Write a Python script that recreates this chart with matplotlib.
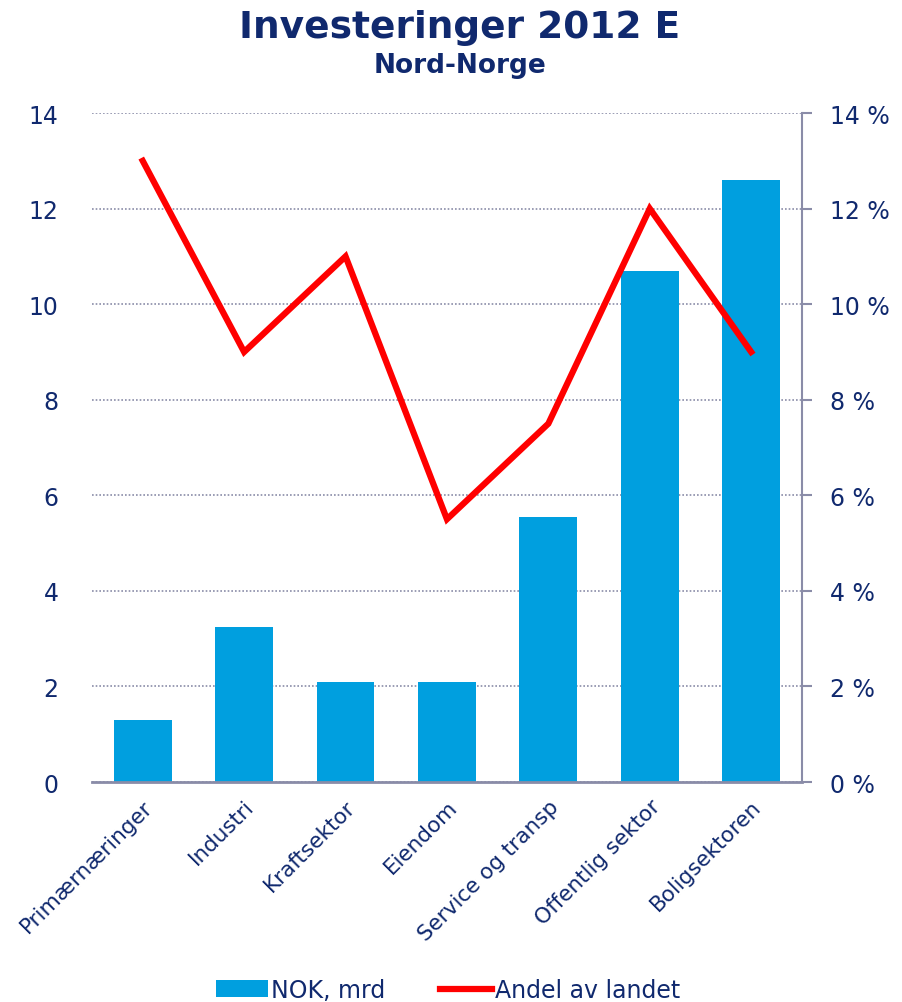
import numpy as np
import matplotlib.pyplot as plt
from matplotlib.ticker import FuncFormatter, MultipleLocator

categories = ["Primærnæringer", "Industri", "Kraftsektor", "Eiendom",
              "Service og transp", "Offentlig sektor", "Boligsektoren"]
nok_mrd = [1.3, 3.25, 2.1, 2.1, 5.55, 10.7, 12.6]
andel_pct = [13.0, 9.0, 11.0, 5.5, 7.5, 12.0, 9.0]

navy = "#10296e"
bar_col = "#009fdf"
grey = "#8a8ca8"

plt.rcParams['font.family'] = ['DejaVu Sans']

fig = plt.figure(figsize=(9.02, 10.03), dpi=100)
ax = fig.add_axes([0.102, 0.2193, 0.787, 0.667])
ax2 = ax.twinx()

x = np.arange(len(categories))
bars = ax.bar(x, nok_mrd, width=0.57, color=bar_col, label="NOK, mrd", zorder=2)
line, = ax2.plot(x, andel_pct, color="#ff0000", lw=4.5, label="Andel av landet",
                 solid_joinstyle="miter", zorder=3)

ax.set_xlim(-0.5, len(categories) - 0.5)
ax.set_ylim(0, 14)
ax2.set_ylim(0, 14)
ax.yaxis.set_major_locator(MultipleLocator(2))
ax2.yaxis.set_major_locator(MultipleLocator(2))
ax2.yaxis.set_major_formatter(FuncFormatter(lambda v, p: f"{v:.0f} %"))

ax.grid(axis="y", color=grey, linestyle=(0, (1, 1.2)), linewidth=1.2, zorder=0)
ax.set_axisbelow(True)

for a in (ax, ax2):
    a.spines["top"].set_visible(False)
    a.spines["left"].set_visible(False)
ax.spines["right"].set_visible(False)
ax2.spines["bottom"].set_visible(False)
ax.spines["bottom"].set_color(grey)
ax.spines["bottom"].set_linewidth(2)
ax2.spines["right"].set_color(grey)
ax2.spines["right"].set_linewidth(1.5)

ax.tick_params(axis="y", length=0, pad=24, labelsize=17, labelcolor=navy)
ax2.tick_params(axis="y", length=7, width=1.5, color=grey, pad=13,
                labelsize=17, labelcolor=navy)
ax.set_xticks(x)
ax.set_xticklabels(categories, rotation=45, ha="right", rotation_mode="anchor",
                   fontsize=15.5, color=navy)
ax.tick_params(axis="x", length=0, pad=10)

fig.text(0.51, 0.972, "Investeringer 2012 E", ha="center", va="center",
         fontsize=27, fontweight="bold", color=navy)
fig.text(0.51, 0.934, "Nord-Norge", ha="center", va="center",
         fontsize=19, fontweight="bold", color=navy)

fig.legend([bars, line], ["NOK, mrd", "Andel av landet"], loc="center",
           bbox_to_anchor=(0.497, 0.012), ncol=2, frameon=False, fontsize=17,
           labelcolor=navy, handlelength=2.2, handletextpad=0.15, columnspacing=2.3)

fig.savefig("out.png", dpi=100)
